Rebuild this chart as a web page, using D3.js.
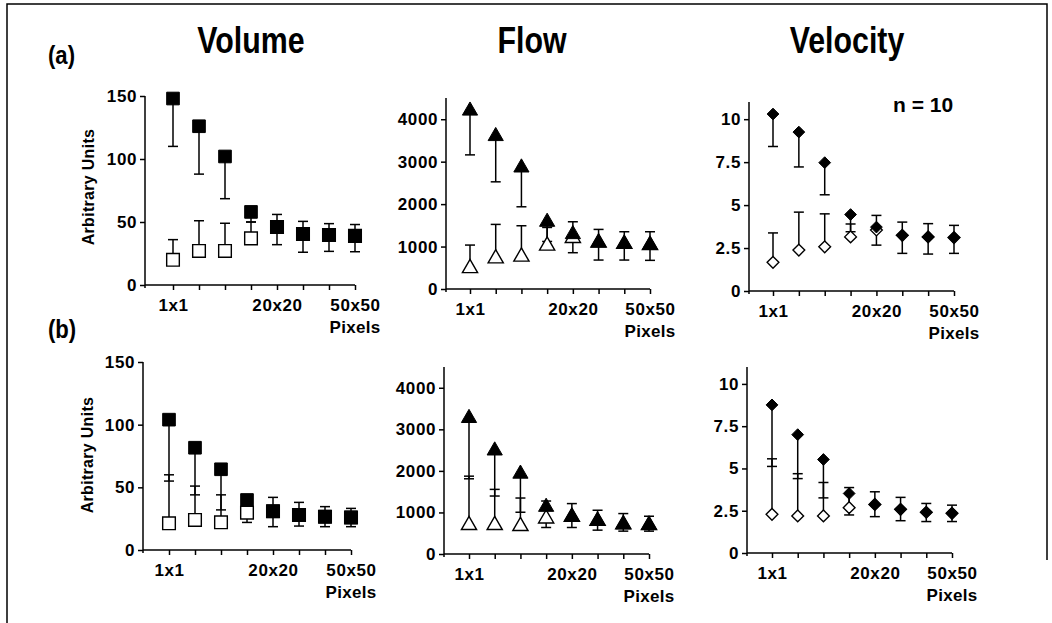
<!DOCTYPE html>
<html>
<head>
<meta charset="utf-8">
<script src="https://cdn.jsdelivr.net/npm/d3@7"></script>
<style>
  body { margin: 0; background: #fff; }
  svg text { font-family: "Liberation Sans", Arial, sans-serif; font-weight: bold; fill: #000; }
</style>
</head>
<body>
<script>
// pixel sizes, only three of them are labelled on the axis
var tickLabels = ["1x1", "", "", "", "20x20", "", "", "50x50"];

// (a) rows: filled symbol = mean with lower bar, open symbol = mean with upper bar
var volA       = [148, 126, 102, 58, 46, 40.5, 39.7, 39];
var volALow    = [110, 88, 68.5, 50, 32, 26, 26.7, 26.4];
var volAOpen   = [20, 27, 27, 37, 46, 40.5, 39.7, 39];
var volAHigh   = [36, 51, 49, 50, 56, 50.5, 48.7, 48];

var flowA      = [4200, 3600, 2860, 1580, 1290, 1090, 1060, 1035];
var flowALow   = [3160, 2525, 1937, 1120, 855, 682, 682, 675];
var flowAOpen  = [490, 720, 760, 1020, 1200, 1090, 1060, 1035];
var flowAHigh  = [1035, 1522, 1490, 1450, 1584, 1404, 1349, 1349];

var velA       = [10.3, 9.25, 7.47, 4.45, 3.72, 3.24, 3.15, 3.11];
var velALow    = [8.41, 7.22, 5.6, 3.45, 2.67, 2.19, 2.15, 2.19];
var velAOpen   = [1.67, 2.38, 2.57, 3.15, 3.55, 3.24, 3.15, 3.11];
var velAHigh   = [3.38, 4.59, 4.49, 3.9, 4.4, 4.01, 3.92, 3.82];

// (b) rows
var volB       = [104, 81.6, 64.4, 39.9, 30.9, 27.9, 26.6, 26];
var volBLow    = [55, 44, 32, 22, 18.6, 19.1, 18.6, 18.6];
var volBOpen   = [21.3, 24, 22.1, 29.8, 30.9, 27.9, 26.6, 26];
var volBHigh   = [60, 51, 44, 36, 42, 38, 34.6, 33.2];

var flowB      = [3270, 2488, 1930, 1132, 893, 797, 710, 694];
var flowBLow   = [1810, 1395, 1005, 638, 638, 574, 550, 550];
var flowBOpen  = [694, 694, 670, 853, 893, 797, 710, 694];
var flowBHigh  = [1873, 1555, 1347, 1275, 1213, 1053, 973, 909];

var velB       = [8.76, 7.0, 5.53, 3.52, 2.87, 2.58, 2.41, 2.35];
var velBLow    = [5.12, 4.4, 3.26, 2.25, 2.15, 1.91, 1.86, 1.86];
var velBOpen   = [2.29, 2.19, 2.19, 2.68, 2.87, 2.58, 2.41, 2.35];
var velBHigh   = [5.57, 4.69, 4.17, 3.87, 3.62, 3.29, 2.93, 2.83];

var volTicks  = [0, 50, 100, 150];
var flowTicks = [0, 1000, 2000, 3000, 4000];
var velTicks  = [0, 2.5, 5, 7.5, 10];

var width = 1052, height = 623;

var svg = d3.select("body").append("svg")
            .attr("width", width)
            .attr("height", height);

// frame round the figure
svg.append("path")
   .attr("d", "M7,623V4H1047V560")
   .attr("fill", "none")
   .attr("stroke", "#000")
   .attr("stroke-width", 1.5);

// column titles, condensed look
var titles = [["Volume", 251], ["Flow", 532], ["Velocity", 847]];
svg.selectAll("text.title")
   .data(titles)
   .enter()
   .append("text")
   .attr("class", "title")
   .attr("transform", function(d){ return "translate(" + d[1] + ",53) scale(0.82,1)"; })
   .attr("text-anchor", "middle")
   .style("font-size", "37px")
   .text(function(d){ return d[0]; });

svg.append("text")
   .attr("transform", "translate(48,64) scale(0.85,1)")
   .style("font-size", "26px")
   .text("(a)");
svg.append("text")
   .attr("transform", "translate(48,338) scale(0.85,1)")
   .style("font-size", "26px")
   .text("(b)");

svg.append("text")
   .attr("x", 893).attr("y", 112)
   .style("font-size", "21px")
   .attr("xml:space", "preserve")
   .text("n = 10");

var panels = [
  {x0: 145, first: 173, last: 355, y0: 285, yTop: 96,  max: 150,  ticks: volTicks,  fmt: d3.format("d"),
   filled: volA, low: volALow, open: volAOpen, high: volAHigh, sym: d3.symbolSquare, size: 160, label: [88, 187]},
  {x0: 446, first: 470, last: 650, y0: 289, yTop: 98,  max: 4500, ticks: flowTicks, fmt: d3.format("d"),
   filled: flowA, low: flowALow, open: flowAOpen, high: flowAHigh, sym: d3.symbolTriangle, size: 100},
  {x0: 749, first: 773, last: 954, y0: 291, yTop: 102, max: 11,   ticks: velTicks,  fmt: d3.format(""),
   filled: velA, low: velALow, open: velAOpen, high: velAHigh, sym: d3.symbolDiamond2, size: 88},
  {x0: 143, first: 169, last: 351, y0: 550, yTop: 362, max: 150,  ticks: volTicks,  fmt: d3.format("d"),
   filled: volB, low: volBLow, open: volBOpen, high: volBHigh, sym: d3.symbolSquare, size: 160, label: [87, 455]},
  {x0: 444, first: 469, last: 649, y0: 554, yTop: 367, max: 4500, ticks: flowTicks, fmt: d3.format("d"),
   filled: flowB, low: flowBLow, open: flowBOpen, high: flowBHigh, sym: d3.symbolTriangle, size: 100},
  {x0: 747, first: 772, last: 952, y0: 553, yTop: 367, max: 11,   ticks: velTicks,  fmt: d3.format(""),
   filled: velB, low: velBLow, open: velBOpen, high: velBHigh, sym: d3.symbolDiamond2, size: 88}
];

panels.forEach(function(p) {
  var x = d3.scaleLinear().domain([0, 7]).range([p.first, p.last]);
  var y = d3.scaleLinear().domain([0, p.max]).range([p.y0, p.yTop]);
  var g = svg.append("g");

  // y axis
  var ya = g.append("g")
            .attr("transform", "translate(" + p.x0 + ",0)")
            .call(d3.axisLeft(y).tickValues(p.ticks).tickFormat(p.fmt).tickSize(5).tickSizeOuter(0).tickPadding(3));
  ya.select(".domain").attr("d", "M0," + p.yTop + "V" + (p.y0 + 3));

  // x axis
  var xa = g.append("g")
            .attr("transform", "translate(0," + p.y0 + ")")
            .call(d3.axisBottom(x).tickValues(d3.range(8))
                    .tickFormat(function(d){ return tickLabels[d]; })
                    .tickSize(5).tickSizeOuter(0).tickPadding(9));
  xa.select(".domain").attr("d", "M" + p.x0 + ",0H" + p.last);

  [ya, xa].forEach(function(a) {
    a.attr("font-family", null).attr("font-size", null);
    a.selectAll("path, line").attr("stroke", "#000").attr("stroke-width", 1.5);
    a.selectAll("text").style("font-size", "17px").style("letter-spacing", "0.6px");
  });

  g.append("text")
   .attr("x", x(7)).attr("y", p.y0 + 48)
   .attr("text-anchor", "middle")
   .style("font-size", "17px")
   .style("letter-spacing", "0.3px")
   .text("Pixels");

  if (p.label) {
    g.append("text")
     .attr("transform", "translate(" + (p.label[0] + 6) + "," + p.label[1] + ") rotate(-90)")
     .attr("text-anchor", "middle")
     .style("font-size", "16px")
     .style("letter-spacing", "0.3px")
     .text("Arbitrary Units");
  }

  // error bars: filled goes down, open goes up
  var bars = [];
  p.filled.forEach(function(v, i){ bars.push([i, v, p.low[i]]); });
  p.open.forEach(function(v, i){ bars.push([i, v, p.high[i]]); });

  g.selectAll("line.stem")
   .data(bars)
   .enter()
   .append("line")
   .attr("x1", function(d){ return x(d[0]); })
   .attr("x2", function(d){ return x(d[0]); })
   .attr("y1", function(d){ return y(d[1]); })
   .attr("y2", function(d){ return y(d[2]); })
   .attr("stroke", "#000")
   .attr("stroke-width", 1.5);

  g.selectAll("line.cap")
   .data(bars)
   .enter()
   .append("line")
   .attr("x1", function(d){ return x(d[0]) - 5; })
   .attr("x2", function(d){ return x(d[0]) + 5; })
   .attr("y1", function(d){ return y(d[2]); })
   .attr("y2", function(d){ return y(d[2]); })
   .attr("stroke", "#000")
   .attr("stroke-width", 1.5);

  var sym = d3.symbol().type(p.sym).size(p.size);

  g.selectAll("path.open")
   .data(p.open)
   .enter()
   .append("path")
   .attr("d", sym)
   .attr("transform", function(d, i){ return "translate(" + x(i) + "," + y(d) + ")"; })
   .attr("fill", "#fff")
   .attr("stroke", "#000")
   .attr("stroke-width", 1.4);

  g.selectAll("path.filled")
   .data(p.filled)
   .enter()
   .append("path")
   .attr("d", sym)
   .attr("transform", function(d, i){ return "translate(" + x(i) + "," + y(d) + ")"; })
   .attr("fill", "#000")
   .attr("stroke", "#000")
   .attr("stroke-width", 1);
});
</script>
</body>
</html>
